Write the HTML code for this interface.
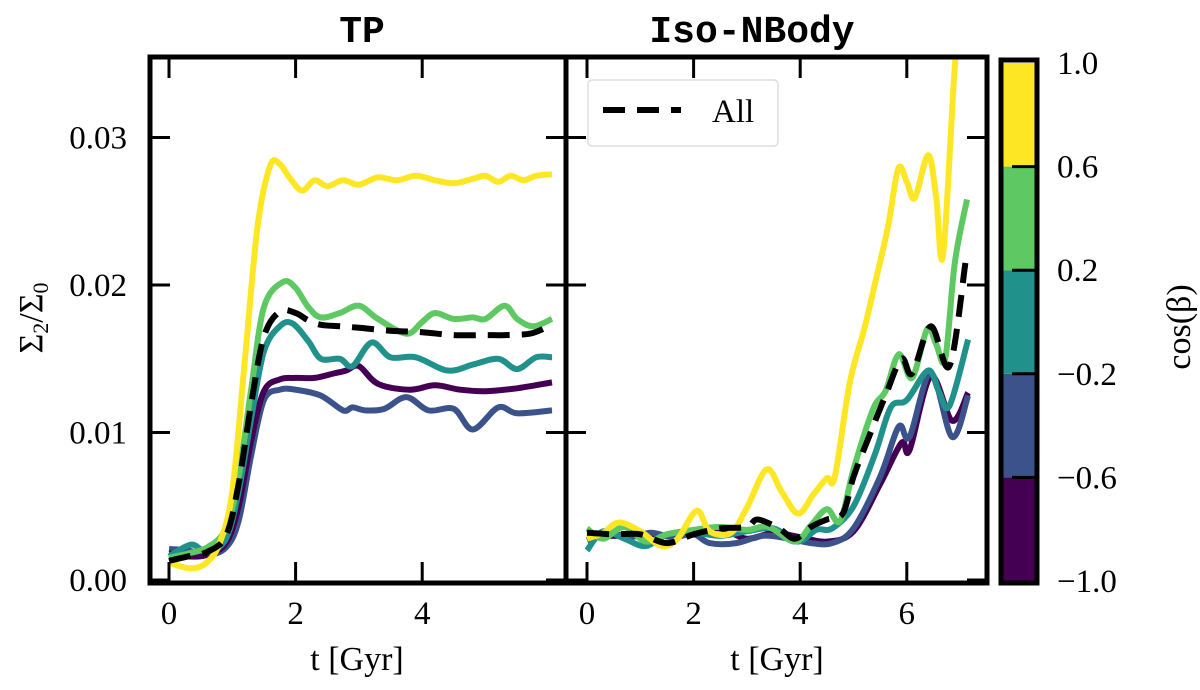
<!DOCTYPE html>
<html><head><meta charset="utf-8"><style>
html,body{margin:0;padding:0;background:#fff;}
svg{display:block;}
text{font-family:"Liberation Serif",serif;fill:#000;}
</style></head><body>
<svg id="chart" width="1200" height="690" viewBox="0 0 1200 690">
<defs>
<clipPath id="clipL"><rect x="150" y="57" width="416" height="526"/></clipPath>
<clipPath id="clipR"><rect x="566" y="57" width="421" height="526"/></clipPath>
</defs>
<g id="gL"></g>
<g id="gR"></g>
<g id="cb"></g>
<text x="362" y="42" font-size="38" font-weight="bold" text-anchor="middle" style="font-family:'Liberation Mono',monospace">TP</text>
<text x="752" y="42" font-size="38" font-weight="bold" text-anchor="middle" style="font-family:'Liberation Mono',monospace">Iso-NBody</text>
<text x="357" y="670" font-size="34" text-anchor="middle">t [Gyr]</text>
<text x="777" y="670" font-size="34" text-anchor="middle">t [Gyr]</text>
<text transform="translate(42,318) rotate(-90)" font-size="34" text-anchor="middle">Σ<tspan font-size="22" dy="6">2</tspan><tspan dy="-6">/Σ</tspan><tspan font-size="22" dy="6">0</tspan></text>
<text transform="translate(1190,327) rotate(-90)" font-size="34" text-anchor="middle">cos(β)</text>
</svg>
<script>
const NS='http://www.w3.org/2000/svg';
const yTicks=[0,0.01,0.02,0.03];
const yTickLabels=['0.00','0.01','0.02','0.03'];
const xTicksL=[0,2,4];
const xTicksR=[0,2,4,6];
const cbTicks=[-1.0,-0.6,-0.2,0.2,0.6,1.0];
const cbLabels=['−1.0','−0.6','−0.2','0.2','0.6','1.0'];
const cbColors=['#440154','#3b528b','#21918c','#5ec962','#fde725'];
// TP panel
const tpT_yellow=[0,0.2,0.4,0.6,0.8,1.0,1.2,1.4,1.6,1.75,1.9,2.1,2.3,2.5,2.75,3.0,3.3,3.6,3.9,4.2,4.5,4.8,5.0,5.2,5.4,5.6,5.8,6.05];
const tpV_yellow=[0.0012,0.0009,0.0008,0.0012,0.0025,0.006,0.015,0.024,0.0281,0.0282,0.0273,0.0264,0.0271,0.0267,0.0271,0.0268,0.0273,0.0271,0.0274,0.0271,0.0269,0.0272,0.0274,0.0270,0.0274,0.0271,0.0274,0.0275];
const tpT_green=[0,0.3,0.6,0.9,1.1,1.3,1.5,1.8,2.0,2.2,2.4,2.7,3.0,3.3,3.75,4.0,4.2,4.5,4.8,5.0,5.3,5.5,5.75,6.05];
const tpV_green=[0.0015,0.0018,0.0022,0.0035,0.007,0.013,0.0185,0.0202,0.0198,0.0185,0.0178,0.0181,0.0186,0.0177,0.0167,0.0175,0.0181,0.0177,0.0178,0.0177,0.0186,0.0177,0.0172,0.0177];
const tpT_all=[0,0.3,0.6,0.9,1.1,1.3,1.5,1.75,2.0,2.2,2.4,2.7,3.0,3.5,4.0,4.5,5.0,5.3,5.7,5.95];
const tpV_all=[0.0013,0.0016,0.0019,0.003,0.0065,0.012,0.0165,0.0182,0.0181,0.0176,0.0173,0.0172,0.0171,0.0169,0.0168,0.0166,0.0166,0.0166,0.0167,0.0171];
const tpT_teal=[0,0.35,0.6,0.9,1.1,1.3,1.5,1.75,1.95,2.2,2.4,2.7,2.9,3.2,3.5,3.9,4.4,4.8,5.2,5.5,5.8,6.05];
const tpV_teal=[0.0016,0.0024,0.0019,0.0028,0.006,0.011,0.0155,0.0172,0.0174,0.0162,0.015,0.015,0.0145,0.0161,0.0151,0.0151,0.0142,0.0146,0.015,0.0143,0.0151,0.0151];
const tpT_purple=[0,0.3,0.6,0.9,1.1,1.3,1.5,1.75,2.0,2.3,2.6,2.8,3.0,3.3,3.8,4.2,4.6,5.0,5.5,6.05];
const tpV_purple=[0.0018,0.0016,0.0017,0.0025,0.005,0.0095,0.0128,0.0136,0.0137,0.0137,0.014,0.0142,0.0145,0.0133,0.0129,0.0132,0.0129,0.0128,0.013,0.0134];
const tpT_blue=[0,0.3,0.6,0.9,1.1,1.3,1.5,1.75,2.0,2.4,2.75,2.9,3.1,3.4,3.75,4.1,4.5,4.8,5.2,5.5,6.05];
const tpV_blue=[0.0021,0.002,0.0017,0.0022,0.004,0.0085,0.0122,0.0129,0.0129,0.0125,0.0115,0.0117,0.0115,0.0116,0.0124,0.0115,0.0116,0.0102,0.0117,0.0113,0.0115];
// Iso-NBody panel
const isoT_yellow=[0,0.3,0.6,1.0,1.4,1.7,2.06,2.3,2.7,3.0,3.37,3.65,3.96,4.25,4.5,4.65,4.93,5.2,5.43,5.65,5.84,6.0,6.15,6.4,6.55,6.68,6.9,7.05];
const isoV_yellow=[0.0028,0.0032,0.0039,0.0033,0.0023,0.0028,0.0047,0.0033,0.0032,0.0049,0.0075,0.006,0.0045,0.0058,0.0069,0.007,0.0134,0.017,0.0205,0.024,0.0279,0.027,0.0259,0.0288,0.026,0.022,0.0348,0.040];
const isoT_green=[0,0.3,0.7,1.1,1.5,2.0,2.5,3.0,3.4,3.9,4.2,4.5,4.75,5.0,5.37,5.6,5.85,6.1,6.38,6.55,6.72,6.9,7.13];
const isoV_green=[0.0035,0.0028,0.0036,0.0026,0.0031,0.0034,0.0036,0.0034,0.0036,0.0026,0.0037,0.0048,0.004,0.0075,0.0116,0.0128,0.0153,0.0137,0.017,0.016,0.015,0.0215,0.0258];
const isoT_all=[0,0.5,1.0,1.5,2.0,2.5,3.0,3.2,3.6,3.9,4.2,4.5,4.8,5.0,5.3,5.6,5.9,6.1,6.45,6.8,7.1];
const isoV_all=[0.0032,0.0031,0.0031,0.0025,0.0031,0.0035,0.0036,0.0041,0.0035,0.0028,0.0036,0.0041,0.0045,0.007,0.0098,0.0125,0.015,0.014,0.0172,0.0145,0.0215];
const isoT_teal=[0,0.3,0.7,1.1,1.5,2.0,2.5,3.0,3.5,3.95,4.3,4.6,5.0,5.4,5.7,6.0,6.4,6.6,6.8,7.15];
const isoV_teal=[0.002,0.0033,0.0028,0.0023,0.0031,0.0032,0.003,0.0033,0.0035,0.0026,0.0034,0.0035,0.005,0.0085,0.0117,0.0122,0.0142,0.0128,0.0118,0.0163];
const isoT_blue=[0,0.4,0.8,1.2,1.6,2.0,2.3,2.8,3.3,3.8,4.2,4.6,5.0,5.5,5.85,6.05,6.45,6.85,7.15];
const isoV_blue=[0.0027,0.0032,0.0029,0.0032,0.0029,0.0031,0.0025,0.0025,0.003,0.0028,0.0025,0.0025,0.0035,0.007,0.0104,0.0097,0.014,0.0097,0.0125];
const isoT_purple=[0,0.4,0.8,1.2,1.6,2.0,2.5,3.0,3.5,4.0,4.5,5.0,5.5,5.9,6.05,6.45,6.85,7.15];
const isoV_purple=[0.003,0.003,0.003,0.0031,0.003,0.0033,0.0035,0.0028,0.0032,0.0029,0.0026,0.0033,0.0065,0.0093,0.0088,0.0138,0.0108,0.0127];

const yS=v=>580-14750*v;
const xL=t=>169+63.3*t;
const xR=t=>587+53.3*t;

function el(tag,attrs,parent){const e=document.createElementNS(NS,tag);for(const k in attrs)e.setAttribute(k,attrs[k]);parent.appendChild(e);return e;}
function smooth(pts){let d='M'+pts[0][0].toFixed(1)+','+pts[0][1].toFixed(1);
 for(let i=0;i<pts.length-1;i++){const p0=pts[Math.max(0,i-1)],p1=pts[i],p2=pts[i+1],p3=pts[Math.min(pts.length-1,i+2)];
 const c1=[p1[0]+(p2[0]-p0[0])/6,p1[1]+(p2[1]-p0[1])/6],c2=[p2[0]-(p3[0]-p1[0])/6,p2[1]-(p3[1]-p1[1])/6];
 d+=' C'+c1[0].toFixed(1)+','+c1[1].toFixed(1)+' '+c2[0].toFixed(1)+','+c2[1].toFixed(1)+' '+p2[0].toFixed(1)+','+p2[1].toFixed(1);}
 return d;}
function series(g,ts,vs,xf,color,name,clip,dash){
 const p=el('path',{d:smooth(ts.map((t,i)=>[xf(t),yS(vs[i])])),fill:'none',stroke:color,'stroke-width':6,'stroke-linejoin':'round','clip-path':'url(#'+clip+')'},g);
 if(dash)p.setAttribute('stroke-dasharray','22,12');
 
 }
function frame(g,x0,x1,xt,xf,leftLabels){
 for(const v of yTicks){const y=yS(v);
  const a=el('line',{x1:x0,x2:x0+20,y1:y,y2:y,stroke:'#000','stroke-width':3},g);
  
  const b=el('line',{x1:x1-20,x2:x1,y1:y,y2:y,stroke:'#000','stroke-width':3},g);
  }
 if(leftLabels){yTicks.forEach((v,i)=>{const t=el('text',{x:127,y:yS(v)+11,'font-size':33,'text-anchor':'end'},g);t.textContent=yTickLabels[i];
  });}
 for(const v of xt){const x=xf(v);
  const a=el('line',{x1:x,x2:x,y1:57,y2:78,stroke:'#000','stroke-width':3},g);
  
  const b=el('line',{x1:x,x2:x,y1:562,y2:583,stroke:'#000','stroke-width':3},g);
  
  const t=el('text',{x:x,y:624,'font-size':33,'text-anchor':'middle'},g);t.textContent=String(v);
  }
 const r=el('rect',{x:x0,y:57,width:x1-x0,height:526,fill:'none',stroke:'#000','stroke-width':5},g);
 }

const gL=document.getElementById('gL'),gR=document.getElementById('gR'),cb=document.getElementById('cb');
series(gL,tpT_blue,tpV_blue,xL,'#3b528b','line-tp-blue','clipL');
series(gL,tpT_purple,tpV_purple,xL,'#440154','line-tp-purple','clipL');
series(gL,tpT_teal,tpV_teal,xL,'#21918c','line-tp-teal','clipL');
series(gL,tpT_green,tpV_green,xL,'#5ec962','line-tp-green','clipL');
series(gL,tpT_yellow,tpV_yellow,xL,'#fde725','line-tp-yellow','clipL');
series(gL,tpT_all,tpV_all,xL,'#000','line-tp-all','clipL',true);
frame(gL,150,566,xTicksL,xL,true);
series(gR,isoT_purple,isoV_purple,xR,'#440154','line-iso-purple','clipR');
series(gR,isoT_blue,isoV_blue,xR,'#3b528b','line-iso-blue','clipR');
series(gR,isoT_teal,isoV_teal,xR,'#21918c','line-iso-teal','clipR');
series(gR,isoT_green,isoV_green,xR,'#5ec962','line-iso-green','clipR');
series(gR,isoT_yellow,isoV_yellow,xR,'#fde725','line-iso-yellow','clipR');
series(gR,isoT_all,isoV_all,xR,'#000','line-iso-all','clipR',true);
frame(gR,566,987,xTicksR,xR,false);
// legend
const lg=el('g',{},gR);
el('rect',{x:588,y:80,width:190,height:66,rx:4,fill:'#fff',stroke:'#ddd','stroke-width':1.5},lg);
const ll=el('line',{x1:603,x2:681,y1:110,y2:110,stroke:'#000','stroke-width':6,'stroke-dasharray':'22,12'},lg);

const lt=el('text',{x:712,y:122,'font-size':33},lg);lt.textContent='All';

// colorbar
const cy=v=>581-(v+1)/2*518;
for(let i=0;i<cbColors.length;i++){const r=el('rect',{x:1001,y:cy(cbTicks[i+1]),width:36,height:cy(cbTicks[i])-cy(cbTicks[i+1]),fill:cbColors[i]},cb);
 }
cbTicks.forEach((v,i)=>{const y=cy(v);
 if(i>0&&i<cbTicks.length-1){const l=el('line',{x1:1012,x2:1037,y1:y,y2:y,stroke:'#000','stroke-width':3},cb);}
 const t=el('text',{x:1057,y:Math.min(y+11,594),'font-size':33},cb);t.textContent=cbLabels[i];
 });
const cf=el('rect',{x:1001,y:60,width:36,height:523,fill:'none',stroke:'#000','stroke-width':5},cb);

</script>
</body></html>
